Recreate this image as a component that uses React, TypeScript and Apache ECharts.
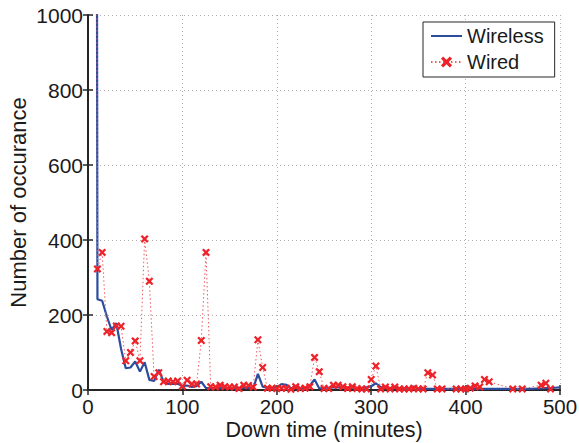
import React, { useEffect, useRef } from "react";
import * as echarts from "echarts";

const minutes = [
  5, 10, 15, 20, 25, 30, 35, 40, 45, 50, 55, 60, 65, 70, 75, 80, 85, 90, 95, 100,
  105, 110, 115, 120, 125, 130, 135, 140, 145, 150, 155, 160, 165, 170, 175, 180, 185, 190, 195, 200,
  205, 210, 215, 220, 225, 230, 235, 240, 245, 250, 255, 260, 265, 270, 275, 280, 285, 290, 295, 300,
  305, 310, 315, 320, 325, 330, 335, 340, 345, 350, 355, 360, 365, 370, 375, 380, 385, 390, 395, 400,
  405, 410, 415, 420, 425, 430, 435, 440, 445, 450, 455, 460, 465, 470, 475, 480, 485, 490, 495, 500,
];

const wireless = [
  9000, 242, 238, 196, 160, 178, 110, 58, 60, 76, 49, 74, 27, 24, 54, 22, 16, 16, 17, 10,
  12, 8, 10, 22, 5, 5, 6, 5, 6, 5, 4, 5, 6, 5, 5, 43, 9, 6, 5, 5,
  16, 14, 5, 5, 5, 6, 12, 28, 4, 6, 6, 7, 7, 6, 7, 6, 5, 6, 7, 10,
  18, 8, 5, 5, 5, 4, 4, 5, 9, 4, 3, 3, 3, 3, 3, 3, 3, 3, 3, 3,
  3, 3, 3, 3, 3, 3, 3, 3, 3, 3, 3, 3, 3, 3, 4, 4, 5, 5, 6, 7,
];

const wired: (number | null)[] = [
  8000, 323, 367, 156, 153, 171, 170, 78, 100, 131, 78, 403, 290, 36, 46, 22, 24, 22, 24, 10,
  26, 16, 16, 132, 367, 9, 8, 13, 9, 8, 8, 4, 13, 12, 8, 134, 60, 5, 5, 4,
  5, 5, 2, 9, 4, 5, 9, 87, 49, 4, 4, 13, 13, 9, 4, 9, 4, 3, 3, 28,
  64, 3, 8, 3, 8, 3, 3, 3, 5, 3, 3, 46, 40, 3, 3, null, null, 3, 3, 3,
  5, 11, 8, 28, 22, null, null, null, null, 3, null, 3, null, null, null, 13, 18, 3, null, null,
];

const xTicks = { min: 0, max: 500, interval: 100 };
const yTicks = { min: 0, max: 1000, interval: 200 };

const FONT = "'Liberation Sans', Arial, Helvetica, sans-serif";
const AXIS = "#262626";
const TEXT = "#1a1a1a";
const X_MARK =
  "path://M0,2 L2,0 L5,3 L8,0 L10,2 L7,5 L10,8 L8,10 L5,7 L2,10 L0,8 L3,5 Z";

export default function App() {
  const ref = useRef<HTMLDivElement>(null);
  useEffect(() => {
    if (!ref.current) return;
    const chart = echarts.init(ref.current, undefined, { renderer: "svg" });
    const axisLine = { show: true, lineStyle: { color: AXIS, width: 2 } };
    const tick = { show: true, inside: true, length: 5, lineStyle: { color: AXIS, width: 1.5 } };
    const split = { show: true, lineStyle: { color: "#b0b0b0", type: [1, 3] as any, width: 1 } };
    const plain = (v: number) => String(v);
    chart.setOption({
      animation: false,
      backgroundColor: "#ffffff",
      grid: {
        left: 88,
        right: 19,
        top: 15,
        bottom: 53,
        containLabel: false,
        outerBoundsMode: "none",
      },
      textStyle: { fontFamily: FONT },
      legend: {
        orient: "vertical",
        left: 423,
        top: 22,
        padding: [3, 11, 4, 7],
        itemGap: 4,
        itemWidth: 31,
        itemHeight: 14,
        backgroundColor: "#ffffff",
        borderColor: AXIS,
        borderWidth: 1,
        textStyle: { fontSize: 20, color: TEXT, fontFamily: FONT, lineHeight: 22 },
        data: [{ name: "Wireless", itemStyle: { opacity: 0 } }, { name: "Wired" }],
      },
      xAxis: [
        {
          type: "value",
          ...xTicks,
          position: "bottom",
          name: "Down time (minutes)",
          nameLocation: "middle",
          nameGap: 31.5,
          nameMoveOverlap: false,
          nameTextStyle: { fontSize: 21.5, color: TEXT, fontFamily: FONT, lineHeight: 17 },
          axisLine,
          axisTick: tick,
          axisLabel: {
            fontSize: 20.5,
            color: TEXT,
            margin: 8.5,
            lineHeight: 16,
            fontFamily: FONT,
            formatter: plain,
          },
          splitLine: split,
        },
        {
          type: "value",
          ...xTicks,
          position: "top",
          axisLine: { show: true, lineStyle: { color: AXIS, width: 1.5 } },
          axisTick: tick,
          axisLabel: { show: false },
          splitLine: { show: false },
        },
      ],
      yAxis: [
        {
          type: "value",
          ...yTicks,
          position: "left",
          name: "Number of occurance",
          nameLocation: "middle",
          nameGap: 59,
          nameMoveOverlap: false,
          nameTextStyle: { fontSize: 22, color: TEXT, fontFamily: FONT },
          axisLine,
          axisTick: tick,
          axisLabel: { fontSize: 21, color: TEXT, margin: 5, fontFamily: FONT, formatter: plain },
          splitLine: split,
        },
        {
          type: "value",
          ...yTicks,
          position: "right",
          axisLine: { show: true, lineStyle: { color: AXIS, width: 1.5 } },
          axisTick: tick,
          axisLabel: { show: false },
          splitLine: { show: false },
        },
      ],
      series: [
        {
          name: "Wireless",
          type: "line",
          data: minutes.map((m, i) => [m, wireless[i]]),
          symbol: "none",
          color: "#2c4c9e",
          lineStyle: { color: "#2c4c9e", width: 2.2 },
          clip: true,
          z: 2,
        },
        {
          name: "Wired",
          type: "line",
          data: minutes.map((m, i) => [m, wired[i]]),
          connectNulls: true,
          symbol: X_MARK,
          symbolSize: 8,
          showSymbol: true,
          color: "#ee2229",
          itemStyle: { color: "#ee2229" },
          lineStyle: { color: "#f25a5f", width: 1, type: [1.5, 2.5] as any },
          clip: true,
          z: 3,
        },
      ],
    });
    return () => chart.dispose();
  }, []);
  return (
    <div
      ref={ref}
      style={{ position: "fixed", left: 0, top: 0, width: 579, height: 443 }}
    />
  );
}
